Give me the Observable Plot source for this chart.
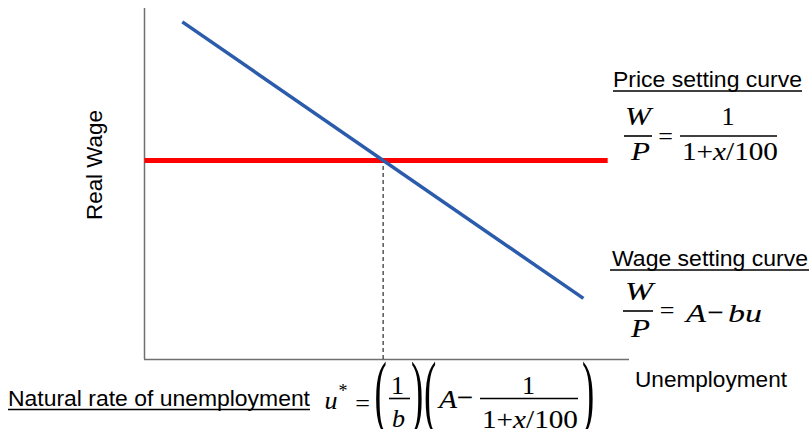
<!DOCTYPE html>
<html><head><meta charset="utf-8">
<script src="https://cdn.jsdelivr.net/npm/d3@7"></script>
<script src="https://cdn.jsdelivr.net/npm/@observablehq/plot@0.6"></script>
<style>
html,body{margin:0;padding:0;background:#fff;}
#wrap{position:relative;width:809px;height:429px;overflow:hidden;background:#fff;}
#chart{position:absolute;left:0;top:0;}
#ann{position:absolute;left:0;top:0;}
#ann .lab{font-family:"Liberation Sans",Arial,sans-serif;font-size:22.5px;fill:#000;}
#ann .m{font-family:"Liberation Serif","Times New Roman",serif;font-size:26px;fill:#000;stroke:#000;stroke-width:0.08px;}
#ann .i{font-style:italic;}
#ann .par{font-family:"Liberation Serif","Times New Roman",serif;font-size:82px;fill:#000;}
</style></head>
<body><div id="wrap"><div id="chart"></div>
<svg id="ann" width="809" height="429" xmlns="http://www.w3.org/2000/svg">
  <!-- axis labels -->
  <text class="lab" transform="translate(102,220) rotate(-90)" textLength="110" lengthAdjust="spacingAndGlyphs">Real Wage</text>
  <text class="lab" x="635" y="387" textLength="152" lengthAdjust="spacingAndGlyphs">Unemployment</text>

  <!-- price setting curve -->
  <text class="lab" x="613" y="87" textLength="189" lengthAdjust="spacingAndGlyphs">Price setting curve</text>
  <line x1="613" x2="802" y1="91" y2="91" stroke="#000" stroke-width="1.6"/>
  <g font-family="Liberation Serif">
  <text class="m i" x="625" y="125" textLength="26" lengthAdjust="spacingAndGlyphs">W</text>
  <line x1="624" x2="652" y1="136" y2="136" stroke="#000" stroke-width="1.6"/>
  <text class="m i" x="631" y="160" textLength="19" lengthAdjust="spacingAndGlyphs">P</text>
  <text class="m" x="665.5" y="145" text-anchor="middle">=</text>
  <text class="m" x="728" y="125" text-anchor="middle">1</text>
  <line x1="680" x2="777" y1="136" y2="136" stroke="#000" stroke-width="1.6"/>
  <text class="m" x="682" y="160" textLength="96" lengthAdjust="spacingAndGlyphs">1+<tspan class="i">x</tspan>/100</text>
  </g>

  <!-- wage setting curve -->
  <text class="lab" x="612" y="266" textLength="196" lengthAdjust="spacingAndGlyphs">Wage setting curve</text>
  <line x1="610" x2="809" y1="270" y2="270" stroke="#000" stroke-width="1.6"/>
  <g font-family="Liberation Serif">
  <text class="m i" x="625" y="300" textLength="28" lengthAdjust="spacingAndGlyphs">W</text>
  <line x1="623" x2="653" y1="311" y2="311" stroke="#000" stroke-width="1.6"/>
  <text class="m i" x="631" y="337" textLength="19" lengthAdjust="spacingAndGlyphs">P</text>
  <text class="m" x="667" y="319" text-anchor="middle">=</text>
  <text class="m i" x="686" y="322" textLength="20" lengthAdjust="spacingAndGlyphs">A</text>
  <text class="m" x="715.5" y="321.5" text-anchor="middle" style="font-size:29px">−</text>
  <text class="m i" x="728" y="322" textLength="34" lengthAdjust="spacingAndGlyphs">bu</text>
  </g>

  <!-- natural rate -->
  <text class="lab" x="8" y="405.5" textLength="302" lengthAdjust="spacingAndGlyphs">Natural rate of unemployment</text>
  <line x1="8" x2="310" y1="409.5" y2="409.5" stroke="#000" stroke-width="1.6"/>
  <g font-family="Liberation Serif">
  <text class="m i" x="331" y="409" text-anchor="middle">u</text>
  <text class="m" x="343" y="397" text-anchor="middle" style="font-size:18px;stroke-width:0px">*</text>
  <text class="m" x="362.5" y="411.5" text-anchor="middle">=</text>
  <text class="par" transform="translate(374.5,418.5) scale(0.45,1)">(</text>
  <text class="m" x="397.5" y="394" text-anchor="middle">1</text>
  <line x1="389" x2="410" y1="398.5" y2="398.5" stroke="#000" stroke-width="1.6"/>
  <text class="m i" x="398.5" y="427" text-anchor="middle">b</text>
  <text class="par" transform="translate(411,418.5) scale(0.45,1)">)</text>
  <text class="par" transform="translate(424,418.5) scale(0.45,1)">(</text>
  <text class="m i" x="439" y="408" textLength="18" lengthAdjust="spacingAndGlyphs">A</text>
  <text class="m" x="465" y="407" text-anchor="middle" style="font-size:29px">−</text>
  <text class="m" x="528.5" y="394" text-anchor="middle">1</text>
  <line x1="480" x2="578" y1="398.5" y2="398.5" stroke="#000" stroke-width="1.6"/>
  <text class="m" x="482" y="428" textLength="96" lengthAdjust="spacingAndGlyphs">1+<tspan class="i">x</tspan>/100</text>
  <text class="par" transform="translate(582,418.5) scale(0.45,1)">)</text>
  </g>
</svg>
</div>
<script>
// Wage setting curve (downward sloping): unemployment u vs real wage W/P
const wageCurveU = [7.8, 90.5];
const wageCurveW = [96.2, 17.4];
// Price setting curve (horizontal)
const priceCurveU = [0, 95.5];
const priceCurveW = [56.7, 56.7];
// Natural rate of unemployment (intersection)
const naturalRateU = [49.2];
const realWageStar = [56.7];

const wageData = wageCurveU.map((u, i) => ({u, w: wageCurveW[i]}));
const priceData = priceCurveU.map((u, i) => ({u, w: priceCurveW[i]}));
const naturalData = naturalRateU.map((u, i) => ({u, w: realWageStar[i]}));

const chart = Plot.plot({
  width: 809,
  height: 429,
  marginLeft: 144,
  marginRight: 180,
  marginTop: 8,
  marginBottom: 70,
  style: {background: "transparent", overflow: "visible"},
  x: {domain: [0, 100], axis: null},
  y: {domain: [0, 100], axis: null},
  marks: [
    Plot.ruleX([0], {stroke: "#707070", strokeWidth: 1.5}),
    Plot.ruleY([0], {stroke: "#707070", strokeWidth: 1.5}),
    Plot.ruleX(naturalData, {x: "u", y1: 0, y2: "w", stroke: "#000", strokeWidth: 1, strokeDasharray: "4,3"}),
    Plot.line(priceData, {x: "u", y: "w", stroke: "#ff0000", strokeWidth: 5, strokeLinecap: "butt"}),
    Plot.line(wageData, {x: "u", y: "w", stroke: "#2b5cab", strokeWidth: 3.5, strokeLinecap: "butt"})
  ]
});
document.getElementById("chart").appendChild(chart);
</script>
</body></html>
